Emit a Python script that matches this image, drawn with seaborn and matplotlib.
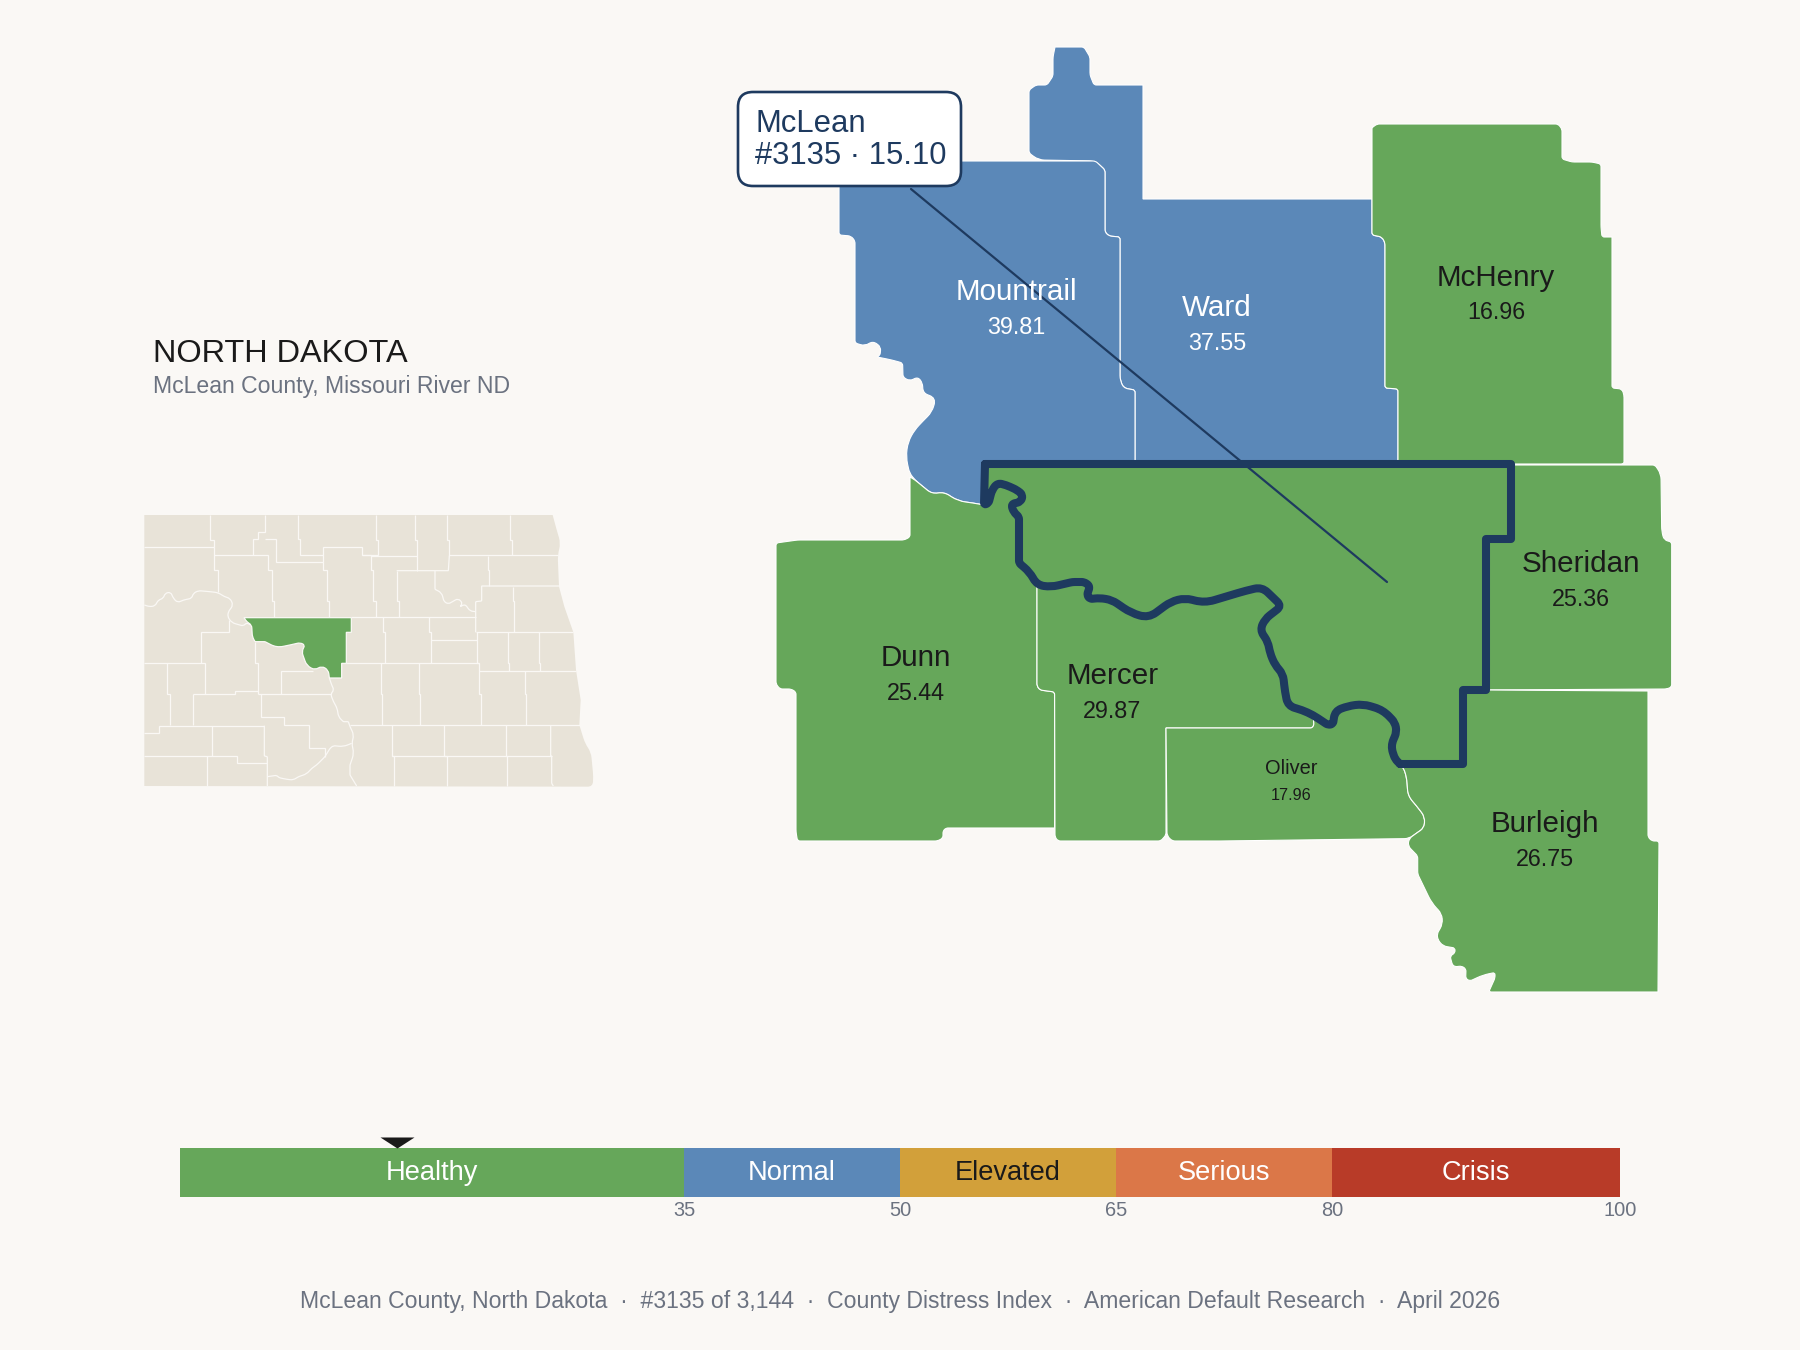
#!/usr/bin/env python3
"""McLean County ND distress map: neighbouring counties, state locator and index scale."""

import matplotlib
matplotlib.use('Agg')

import matplotlib.pyplot as plt
import numpy as np
import seaborn as sns
from matplotlib.patches import FancyBboxPatch, PathPatch
from matplotlib.path import Path

# Colours
BG = '#faf8f5'
GREEN = '#66a75a'
BLUE = '#5b88b8'
NAVY = '#1e3a5f'
DARK = '#1a1a1a'
GREY = '#6b7280'
BEIGE = '#e8e3d8'

# Index scale
band_names = ['Healthy', 'Normal', 'Elevated', 'Serious', 'Crisis']
band_edges = [0, 35, 50, 65, 80, 100]
band_colors = [GREEN, BLUE, '#d2a03a', '#db7748', '#b83b28']
band_text = ['white', 'white', DARK, 'white', 'white']
tick_values = [35, 50, 65, 80, 100]
mclean_score = 15.10

# County labels
county_names = ['Mountrail', 'Ward', 'McHenry', 'Sheridan', 'Dunn', 'Mercer', 'Oliver', 'Burleigh']
county_scores = ['39.81', '37.55', '16.96', '25.36', '25.44', '29.87', '17.96', '26.75']

# River pieces shared between counties (west to east)
river_dunn = [(984, 505), (988.6, 503), (992, 490), (997.5, 483), (1006, 485), (1017, 490), (1023, 495),
              (1020.7, 502), (1011, 504), (1013.6, 512), (1019, 517), (1019, 563), (1029.6, 572), (1037, 585)]
river_mercer = [(1037, 585), (1051, 587), (1072.5, 582), (1084, 582), (1090, 586), (1087, 595), (1090, 599),
                (1100, 598), (1112, 600), (1131, 613), (1148.6, 618), (1170.7, 601.7), (1185, 598),
                (1204.6, 603), (1228, 596), (1245.7, 590.7), (1262, 587), (1273, 597.5), (1281.7, 606),
                (1265, 619), (1260, 630), (1268, 642), (1270, 653), (1275, 665), (1283, 674), (1285, 692),
                (1288, 706), (1302, 710), (1313, 715)]
river_oliver = [(1313, 715), (1328, 725), (1333, 724), (1335, 711), (1348, 706), (1363, 704), (1383, 710),
                (1395, 722.5), (1396.7, 732), (1390.7, 746), (1395, 759), (1400, 764)]
bismarck_bend = [(1400, 764), (1404, 769), (1406.7, 778), (1408, 796), (1416.7, 806), (1425, 817), (1424, 828),
                 (1416.7, 833), (1409, 838.6)]
lake_shore = [(910, 477), (915, 480), (932, 494), (944, 492), (958, 501), (973, 503), (984, 505)]

# County outlines
ward_outline = [(1055, 47), (1084, 47), (1090, 57), (1090, 75), (1094, 85), (1143, 85), (1143, 199), (1372, 199),
                (1372, 235), (1382, 237), (1385, 243), (1385, 388), (1398, 389), (1398, 463), (1135, 463),
                (1135, 390), (1123, 388), (1120, 378), (1120, 237), (1109, 236), (1105, 232), (1105, 170),
                (1095.5, 161), (1038.6, 160), (1029, 153), (1029, 90), (1036, 85), (1047, 85), (1053, 76), (1053, 57)]
mountrail_outline = [(839, 161), (1095.5, 161), (1105, 170), (1105, 232), (1109, 236), (1120, 237), (1120, 378),
                     (1123, 388), (1135, 390), (1135, 463), (984, 463), (984, 505), (973, 503), (958, 501),
                     (944, 492), (932, 494), (915, 480), (909.5, 473), (906, 457), (908, 442), (914.6, 430),
                     (923, 421), (932, 412), (936, 398), (923, 393), (922.5, 383), (918, 377), (909.5, 381),
                     (903, 377), (902.6, 363), (892, 360), (877, 357), (880, 355), (881, 347), (873, 341),
                     (865, 346), (855, 343), (855, 241), (851, 236), (839, 235)]
mchenry_outline = [(1373, 127), (1377, 124), (1558, 124), (1562, 129), (1562, 159), (1572, 162), (1592, 162),
                   (1601, 164), (1601, 227), (1602, 237), (1612, 237), (1612, 388), (1622, 389), (1624, 395),
                   (1624, 463), (1622, 464), (1398, 464), (1398, 389), (1385, 388), (1385, 243), (1382, 237),
                   (1372, 235), (1372, 128)]
sheridan_outline = [(1511, 465), (1655, 465), (1661, 474), (1661.7, 531), (1664, 540), (1671.7, 542), (1671.7, 687),
                    (1666.7, 689), (1486, 690), (1486, 539), (1511, 539)]
dunn_east = [(1037, 588), (1037, 686), (1040, 690), (1054.6, 692), (1054.6, 828), (946, 828), (943, 831), (943, 838),
             (937.5, 841), (797.5, 841), (796, 832), (796, 692), (791, 689), (780, 689), (776, 684), (776, 543),
             (797.5, 540), (904, 540), (910, 537)]
mercer_south = [(1314, 725), (1312, 728), (1166, 728), (1166, 835), (1160.7, 841), (1058, 841), (1055, 837),
                (1054.6, 692), (1040, 690), (1037, 686), (1037, 588)]
oliver_south = [(1220, 841), (1172.5, 841), (1167, 836), (1166, 728), (1312, 728), (1314, 725)]
burleigh_outline = [(1488, 690), (1648, 691), (1648, 837), (1652, 841), (1659, 841), (1658, 992), (1488.7, 992),
                    (1495, 978), (1495, 972.5), (1483, 975), (1470, 981), (1465.7, 978.6), (1466, 969),
                    (1461.7, 966), (1453, 967), (1450, 956), (1455, 953), (1455, 948), (1443, 946), (1438, 940),
                    (1437, 934), (1442.7, 924), (1441.7, 913.6), (1431.7, 903), (1423, 885), (1417.7, 874),
                    (1417.7, 856), (1408, 846), (1409, 838.6), (1416.7, 833), (1424, 828), (1425, 817), (1416.7, 806),
                    (1408, 796), (1406.7, 778), (1404, 769), (1400, 764), (1463, 764), (1463, 690)]
mclean_land = [(985, 464), (1511, 464), (1511, 539), (1486, 539), (1486, 690), (1463, 690), (1463, 764), (1400, 764)]

# State locator, in the locator's own map units
state_outline = [(43, 45), (1268, 45), (1280, 90), (1292, 130), (1283, 165), (1287, 260), (1303, 320), (1330, 397),
                 (1338, 510), (1352, 600), (1348, 675), (1365, 730), (1383, 757), (1390, 830), (1388, 860), (43, 858)]
state_mclean = [(342, 353), (664, 353), (664, 397), (649, 397), (649, 490), (635, 490), (635, 534), (598, 534),
                (595, 510), (575, 498), (555, 510), (530, 497), (515, 455), (525, 435), (510, 428), (480, 435),
                (440, 443), (405, 425), (375, 425), (367, 410), (365, 375), (350, 365)]
state_lines = [
    [(43, 142), (251, 142), (251, 210), (263, 210), (263, 275)],
    [(241, 45), (241, 120), (251, 120), (251, 142)],
    [(251, 165), (415, 165), (415, 210), (425, 210), (425, 303), (433, 303), (433, 352)],
    [(406, 45), (406, 95), (384, 95), (384, 118), (370, 118), (370, 165)],
    [(406, 118), (438, 118), (438, 187), (580, 187), (580, 210), (590, 210), (590, 303), (596, 303), (596, 352)],
    [(503, 45), (503, 118), (510, 118), (510, 165), (580, 165)],
    [(580, 187), (580, 142), (697, 142), (697, 165), (722, 165), (722, 210), (730, 210), (730, 303), (737, 303), (737, 352)],
    [(738, 45), (738, 120), (745, 120), (745, 165), (697, 165)],
    [(722, 167), (862, 167)],
    [(856, 45), (856, 120), (862, 120), (862, 212)],
    [(800, 212), (955, 212), (958, 167)],
    [(952, 45), (952, 120), (958, 120), (958, 167)],
    [(958, 166), (1285, 166)],
    [(1140, 45), (1140, 120), (1145, 120), (1145, 166)],
    [(1075, 167), (1075, 210), (1078, 210), (1078, 258)],
    [(1287, 258), (1055, 258), (1055, 303), (1037, 305), (1037, 397)],
    [(1148, 260), (1148, 303), (1153, 303), (1153, 397)],
    [(800, 212), (800, 303), (806, 303), (806, 352)],
    [(915, 212), (915, 268), (935, 278), (942, 305), (955, 312), (985, 295), (998, 310), (988, 322), (1005, 312),
     (1020, 333), (1037, 335)],
    [(664, 352), (1037, 352)],
    [(1037, 397), (1330, 397)],
    [(43, 315), (58, 320), (75, 318), (85, 300), (100, 295), (105, 280), (122, 276), (130, 295), (143, 308),
     (160, 300), (185, 295), (190, 280), (205, 272), (240, 275), (265, 278), (283, 290), (300, 295), (310, 315),
     (295, 335), (293, 350), (305, 368), (340, 378), (350, 368), (362, 375)],
    [(296, 360), (296, 397), (212, 397), (212, 490)],
    [(43, 490), (226, 490), (226, 582)],
    [(110, 490), (110, 582), (121, 582), (121, 675)],
    [(374, 425), (374, 490), (385, 490), (385, 582)],
    [(188, 582), (316, 582), (316, 574), (385, 574)],
    [(190, 582), (190, 675)],
    [(454, 582), (454, 512), (548, 512)],
    [(385, 582), (602, 582)],
    [(598, 534), (605, 555), (612, 570), (602, 582), (610, 605), (622, 625), (625, 650), (640, 665), (655, 665),
     (660, 680), (672, 705), (665, 730), (672, 760), (660, 795), (660, 825), (680, 858)],
    [(635, 490), (1048, 490)],
    [(43, 700), (87, 700), (87, 677), (403, 677)],
    [(394, 582), (394, 652), (462, 652), (462, 676), (538, 676), (538, 745), (584, 745), (584, 770)],
    [(403, 677), (403, 768), (412, 770), (412, 858)],
    [(245, 677), (245, 768)],
    [(43, 769), (320, 769), (320, 790), (412, 790)],
    [(232, 769), (232, 858)],
    [(412, 830), (440, 826), (447, 833), (470, 838), (490, 840), (505, 830), (530, 822), (545, 805), (560, 795),
     (575, 780), (585, 770), (600, 745), (610, 737), (640, 740), (665, 730)],
    [(660, 675), (1350, 675)],
    [(752, 490), (752, 582), (757, 582), (757, 675)],
    [(866, 490), (866, 582), (871, 582), (871, 675)],
    [(1042, 397), (1042, 490), (1048, 490), (1048, 582), (1052, 582), (1052, 675)],
    [(1048, 514), (1338, 514)],
    [(1135, 397), (1135, 490), (1138, 490), (1138, 514)],
    [(1226, 397), (1226, 490), (1230, 490), (1230, 514)],
    [(1184, 514), (1184, 582), (1189, 582), (1189, 675)],
    [(760, 352), (760, 397), (766, 397), (766, 490)],
    [(898, 352), (898, 397), (904, 397), (904, 490)],
    [(904, 421), (1040, 421)],
    [(787, 675), (787, 768), (793, 768), (793, 858)],
    [(787, 768), (1265, 768)],
    [(943, 675), (943, 768), (950, 768), (950, 858)],
    [(1127, 675), (1127, 768), (1130, 768), (1130, 858)],
    [(1262, 675), (1262, 768), (1265, 768), (1265, 850), (1270, 858)],
]

sns.set_theme(style='white')
plt.rcParams['font.family'] = ['Liberation Sans', 'DejaVu Sans']

W, H = 1800, 1350
fig = plt.figure(figsize=(W / 100, H / 100), dpi=100, facecolor=BG)


def add_axes_px(left, top, width, height):
    return fig.add_axes([left / W, 1 - (top + height) / H, width / W, height / H])


def soft_path(pts, closed=False, limit=45, cap=2.5):
    # round river-like vertices, keep surveyed (axis aligned) corners sharp
    pts = [np.array(p, dtype=float) for p in pts]
    if closed:
        pts = pts + [pts[0]]
    verts = [pts[0]]
    codes = [Path.MOVETO]
    for i in range(1, len(pts) - 1):
        p = pts[i]
        d1, d2 = p - pts[i - 1], pts[i + 1] - p
        l1, l2 = np.hypot(*d1), np.hypot(*d2)
        m = min(l1, l2)
        straight1 = min(abs(d1[0]), abs(d1[1])) < 0.5
        straight2 = min(abs(d2[0]), abs(d2[1])) < 0.5
        if m >= limit or (straight1 and straight2):
            verts.append(p)
            codes.append(Path.LINETO)
            continue
        r = min(m / 2, cap) if (straight1 or straight2) else m / 2
        verts += [p - d1 / l1 * r, p, p + d2 / l2 * r]
        codes += [Path.LINETO, Path.CURVE3, Path.CURVE3]
    verts.append(pts[-1])
    codes.append(Path.LINETO)
    if closed:
        verts.append(pts[0])
        codes.append(Path.CLOSEPOLY)
    return Path(verts, codes)


# Main map, in pixel-like units
ax = add_axes_px(0, 0, W, H)
ax.set_facecolor(BG)

county_shapes = [
    (ward_outline, BLUE),
    (mountrail_outline, BLUE),
    (mchenry_outline, GREEN),
    (sheridan_outline, GREEN),
    (lake_shore + river_dunn + dunn_east, GREEN),
    (river_mercer + mercer_south, GREEN),
    (river_oliver + bismarck_bend + oliver_south, GREEN),
    (burleigh_outline, GREEN),
]
for pts, col in county_shapes:
    ax.add_patch(PathPatch(soft_path(pts, closed=True), facecolor=col, edgecolor='white', linewidth=0.8, zorder=2))

# McLean outline, river run backwards from the south-east corner
mclean_ring = mclean_land + (river_dunn + river_mercer[1:] + river_oliver[1:])[::-1]
ax.add_patch(PathPatch(soft_path(mclean_ring, closed=True), facecolor=GREEN, edgecolor=NAVY, linewidth=5.8,
                       joinstyle='round', capstyle='round', zorder=4))

# Leader from callout to county
sns.lineplot(x=[911, 1387], y=[189, 582], sort=False, estimator=None, color=NAVY, linewidth=1.6, ax=ax,
             legend=False, zorder=5)

# County labels
name_pos = [(1016, 292.5), (1217, 308.5), (1496, 277.5), (1581, 564), (916, 658.5), (1112.5, 676), (1291, 768), (1545, 824)]
score_pos = [(1016, 327), (1217, 344), (1496, 312.5), (1581, 599), (916, 694), (1112.5, 711), (1291, 795), (1545, 859)]
for i, name in enumerate(county_names):
    col = 'white' if i < 2 else DARK
    small = name == 'Oliver'
    ax.text(*name_pos[i], name, ha='center', va='center', color=col, fontsize=14.4 if small else 21.3, zorder=6)
    ax.text(*score_pos[i], county_scores[i], ha='center', va='center', color=col, fontsize=11.6 if small else 16.8, zorder=6)

# Callout
ax.add_patch(FancyBboxPatch((738, 92), 223, 94, boxstyle='round,pad=0,rounding_size=15', facecolor='white',
                            edgecolor=NAVY, linewidth=1.9, zorder=7))
ax.text(755, 123.5, 'McLean', ha='left', va='center', color=NAVY, fontsize=22.3, zorder=8)
ax.text(755, 155.5, '#3135 · 15.10', ha='left', va='center', color=NAVY, fontsize=22.3, zorder=8)

# Titles
ax.text(153, 354, 'NORTH DAKOTA', ha='left', va='center', color=DARK, fontsize=23.4)
ax.text(153, 386, 'McLean County, Missouri River ND', ha='left', va='center', color=GREY, fontsize=16.6)
ax.text(900, 1301.5, 'McLean County, North Dakota  ·  #3135 of 3,144  ·  County Distress Index  ·  '
        'American Default Research  ·  April 2026', ha='center', va='center', color=GREY, fontsize=16.55)

ax.set_xlim(0, W)
ax.set_ylim(H, 0)
ax.axis('off')

# State locator
ax_loc = add_axes_px(130, 500, 470, 300)
ax_loc.add_patch(PathPatch(soft_path(state_outline, closed=True), facecolor=BEIGE, edgecolor='none', zorder=1))
for line in state_lines:
    ax_loc.add_patch(PathPatch(soft_path(line), fill=False, edgecolor=BG, linewidth=0.9, zorder=2))
ax_loc.add_patch(PathPatch(soft_path(state_mclean, closed=True), facecolor=GREEN, edgecolor=BG, linewidth=0.9, zorder=3))
ax_loc.set_xlim(0, 1410)
ax_loc.set_ylim(900, 0)
ax_loc.axis('off')

# Index scale bar
ax_bar = add_axes_px(180, 1148, 1440, 49)
for i, name in enumerate(band_names):
    lo, hi = band_edges[i], band_edges[i + 1]
    sns.barplot(x=[hi - lo], y=[0], left=lo, color=band_colors[i], orient='h', width=1, native_scale=True,
                saturation=1, linewidth=0, ax=ax_bar)
    ax_bar.text((lo + hi) / 2, 0.0, name, ha='center', va='center', color=band_text[i], fontsize=19.6)
ax_bar.set_xlim(0, 100)
ax_bar.set_ylim(0.5, -0.5)
ax_bar.set_yticks([])
ax_bar.set_xticks(tick_values)
ax_bar.set_xticklabels([str(v) for v in tick_values], color=GREY, fontsize=14.4)
ax_bar.tick_params(axis='x', length=0, pad=2.8)
ax_bar.set_xlabel('')
ax_bar.set_ylabel('')
sns.despine(ax=ax_bar, left=True, bottom=True, top=True, right=True)
ax_bar.scatter([mclean_score], [1], transform=ax_bar.get_xaxis_transform(), marker=[(-17, 11), (17, 11), (0, 0)],
               s=600, color=DARK, linewidths=0, clip_on=False, zorder=5)

fig.savefig('out.png', dpi=100, facecolor=BG)
plt.close(fig)
